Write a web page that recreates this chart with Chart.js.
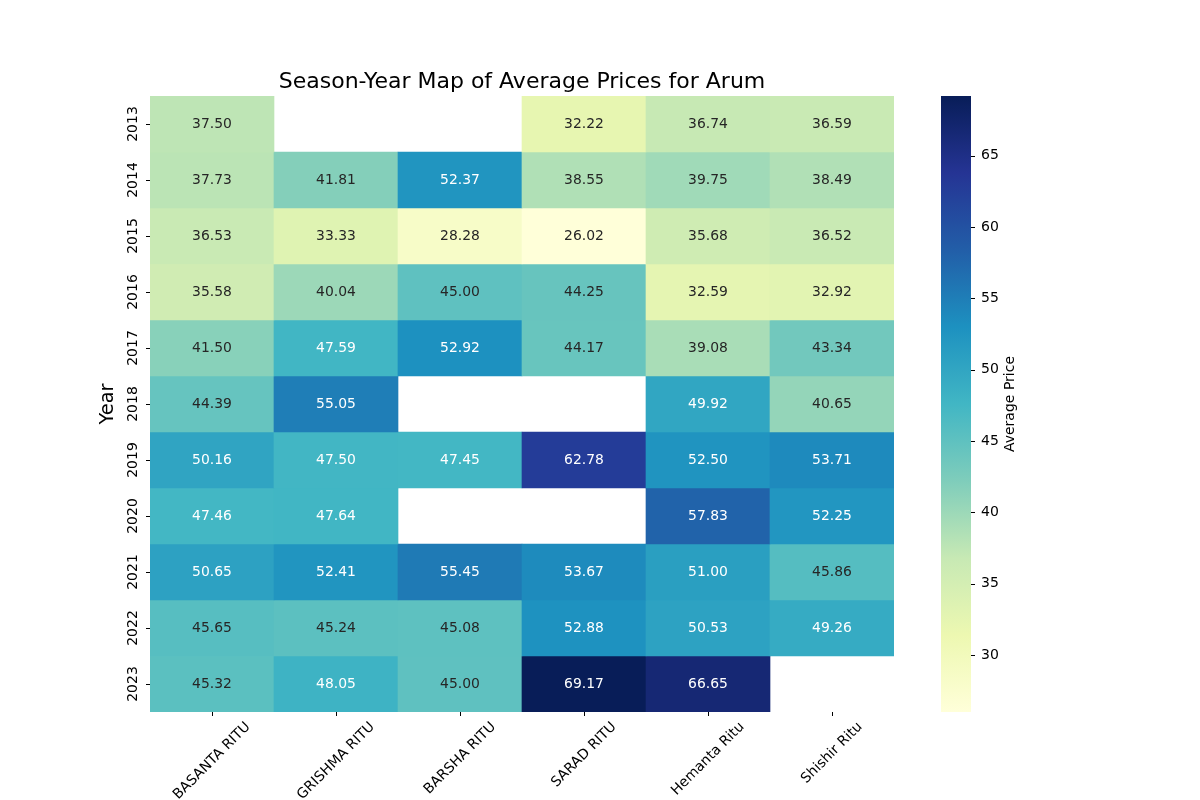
<!DOCTYPE html>
<html>
<head>
<meta charset="utf-8">
<title>Season-Year Map of Average Prices for Arum</title>
<script src="https://cdn.jsdelivr.net/npm/chart.js@4/dist/chart.umd.min.js"></script>
<style>
  html, body { margin: 0; padding: 0; background: #fff; }
  #wrap { width: 1200px; height: 800px; }
</style>
</head>
<body>
<div id="wrap"><canvas id="heat"></canvas></div>
<script>
// Categories
const seasons = ['BASANTA RITU', 'GRISHMA RITU', 'BARSHA RITU', 'SARAD RITU', 'Hemanta Ritu', 'Shishir Ritu'];
const years = ['2013', '2014', '2015', '2016', '2017', '2018', '2019', '2020', '2021', '2022', '2023'];

// Average price per season, one value per year (null = no data)
const basanta = [37.50, 37.73, 36.53, 35.58, 41.50, 44.39, 50.16, 47.46, 50.65, 45.65, 45.32];
const grishma = [null, 41.81, 33.33, 40.04, 47.59, 55.05, 47.50, 47.64, 52.41, 45.24, 48.05];
const barsha = [null, 52.37, 28.28, 45.00, 52.92, null, 47.45, null, 55.45, 45.08, 45.00];
const sarad = [32.22, 38.55, 26.02, 44.25, 44.17, null, 62.78, null, 53.67, 52.88, 69.17];
const hemanta = [36.74, 39.75, 35.68, 32.59, 39.08, 49.92, 52.50, 57.83, 51.00, 50.53, 66.65];
const shishir = [36.59, 38.49, 36.52, 32.92, 43.34, 40.65, 53.71, 52.25, 45.86, 49.26, null];

// Colour bar ticks
const cbTicks = [30, 35, 40, 45, 50, 55, 60, 65];

const columns = [basanta, grishma, barsha, sarad, hemanta, shishir];
const allVals = columns.flat().filter(v => v !== null);
const vmin = Math.min(...allVals);
const vmax = Math.max(...allVals);

// YlGnBu colormap
const YLGNBU = ['#ffffd9', '#edf8b1', '#c7e9b4', '#7fcdbb', '#41b6c4', '#1d91c0', '#225ea8', '#253494', '#081d58'];
const stops = YLGNBU.map(h => [parseInt(h.slice(1, 3), 16), parseInt(h.slice(3, 5), 16), parseInt(h.slice(5, 7), 16)]);

function cmap(v) {
    let t = (v - vmin) / (vmax - vmin);
    t = Math.max(0, Math.min(1, t)) * (stops.length - 1);
    const i = Math.min(Math.floor(t), stops.length - 2);
    const f = t - i;
    return stops[i].map((c, k) => c + (stops[i + 1][k] - c) * f);
}
const rgb = c => `rgb(${c.map(Math.round).join(',')})`;

// seaborn-style text colour: dark text on light cells
function textColor(c) {
    const lin = c.map(x => {
        x /= 255;
        return x <= 0.03928 ? x / 12.92 : Math.pow((x + 0.055) / 1.055, 2.4);
    });
    const lum = 0.2126 * lin[0] + 0.7152 * lin[1] + 0.0722 * lin[2];
    return lum > 0.408 ? '#262626' : '#ffffff';
}

// one floating-bar dataset per year row
const datasets = years.map((yr, i) => ({
    label: yr,
    data: columns.map(col => col[i] === null ? null : [i, i + 1]),
    values: columns.map(col => col[i]),
    backgroundColor: columns.map(col => col[i] === null ? 'rgba(0,0,0,0)' : rgb(cmap(col[i]))),
    borderWidth: 0,
    barPercentage: 1,
    categoryPercentage: 1,
    grouped: false
}));

const FONT = 'DejaVu Sans';

// cell annotations + rotated x labels + colour bar
const heatExtras = {
    id: 'heatExtras',
    afterDatasetsDraw(chart) {
        const ctx = chart.ctx;
        ctx.save();
        ctx.font = `13.9px "${FONT}"`;
        ctx.textAlign = 'center';
        ctx.textBaseline = 'middle';
        chart.data.datasets.forEach((ds, di) => {
            const meta = chart.getDatasetMeta(di);
            meta.data.forEach((el, j) => {
                const v = ds.values[j];
                if (v === null) return;
                ctx.fillStyle = textColor(cmap(v));
                ctx.fillText(v.toFixed(2), el.x, (el.y + el.base) / 2);
            });
        });
        ctx.restore();
    },
    afterDraw(chart) {
        const ctx = chart.ctx;
        const xs = chart.scales.x;
        const cb = chart.scales.cb;
        const area = chart.chartArea;
        ctx.save();

        // x tick labels, rotated 45 and centred under the tick
        ctx.font = `14px "${FONT}"`;
        ctx.fillStyle = '#000';
        ctx.textAlign = 'center';
        ctx.textBaseline = 'middle';
        const h = 16;
        seasons.forEach((s, i) => {
            const x = xs.getPixelForTick(i);
            const w = ctx.measureText(s).width;
            const H = (w + h) * Math.SQRT1_2;
            ctx.save();
            ctx.translate(x, area.bottom + 7 + H / 2);
            ctx.rotate(-Math.PI / 4);
            ctx.fillText(s, 0, 0);
            ctx.restore();
        });

        // colour bar
        const x0 = 941, x1 = 971;
        const top = cb.getPixelForValue(vmax);
        const bot = cb.getPixelForValue(vmin);
        const grad = ctx.createLinearGradient(0, bot, 0, top);
        YLGNBU.forEach((c, i) => grad.addColorStop(i / (YLGNBU.length - 1), c));
        ctx.fillStyle = grad;
        ctx.fillRect(x0, top, x1 - x0, bot - top);
        ctx.strokeStyle = '#000';
        ctx.lineWidth = 1;
        cbTicks.forEach(t => {
            const y = Math.round(cb.getPixelForValue(t)) + 0.5;
            ctx.beginPath();
            ctx.moveTo(x1, y);
            ctx.lineTo(x1 + 4, y);
            ctx.stroke();
        });

        // colour bar label
        ctx.font = `14px "${FONT}"`;
        ctx.fillStyle = '#000';
        ctx.translate(1010, (area.top + area.bottom) / 2);
        ctx.rotate(-Math.PI / 2);
        ctx.fillText('Average Price', 0, 0);
        ctx.restore();
    }
};

Chart.defaults.font.family = FONT;
Chart.defaults.color = '#000';

new Chart(document.getElementById('heat'), {
    type: 'bar',
    data: { labels: seasons, datasets },
    plugins: [heatExtras],
    options: {
        responsive: true,
        maintainAspectRatio: false,
        animation: false,
        layout: { padding: { left: 92, right: 0, top: 66, bottom: 0 } },
        plugins: {
            legend: { display: false },
            tooltip: { enabled: false },
            title: {
                display: true,
                fullSize: false,
                text: 'Season-Year Map of Average Prices for Arum',
                color: '#000',
                font: { size: 22, weight: 'normal', family: FONT },
                padding: { top: 3, bottom: 0.6 }
            }
        },
        scales: {
            x: {
                type: 'category',
                grid: { display: true, offset: false, drawOnChartArea: false, drawTicks: true, tickLength: 4, color: '#000', lineWidth: 1 },
                border: { display: false },
                ticks: { display: false },
                afterFit: (axis) => { axis.height = 88; }
            },
            y: {
                type: 'linear',
                min: 0,
                max: years.length,
                reverse: true,
                afterBuildTicks: (axis) => {
                    axis.ticks = years.map((_, i) => ({ value: i + 0.5 }));
                },
                grid: { display: true, drawOnChartArea: false, drawTicks: true, tickLength: 4, color: '#000', lineWidth: 1 },
                border: { display: false },
                ticks: {
                    callback: (v) => years[Math.floor(v)],
                    minRotation: 90,
                    maxRotation: 90,
                    crossAlign: 'center',
                    padding: -5,
                    font: { size: 14 },
                    color: '#000'
                },
                title: {
                    display: true,
                    text: 'Year',
                    color: '#000',
                    font: { size: 19.4 },
                    padding: { top: 4.4, bottom: 0 }
                },
                afterFit: (axis) => {
                    axis.width = 58;
                    axis.paddingTop = 0;
                    axis.paddingBottom = 0;
                }
            },
            cb: {
                type: 'linear',
                position: 'right',
                min: vmin,
                max: vmax,
                afterBuildTicks: (axis) => {
                    axis.ticks = cbTicks.map(v => ({ value: v }));
                },
                grid: { display: false, drawTicks: true, tickLength: 87 },
                border: { display: false },
                ticks: { padding: 0, font: { size: 14 }, color: '#000' },
                afterFit: (axis) => {
                    axis.width = 306;
                    axis.paddingTop = 0;
                    axis.paddingBottom = 0;
                }
            }
        }
    }
});
</script>
</body>
</html>
